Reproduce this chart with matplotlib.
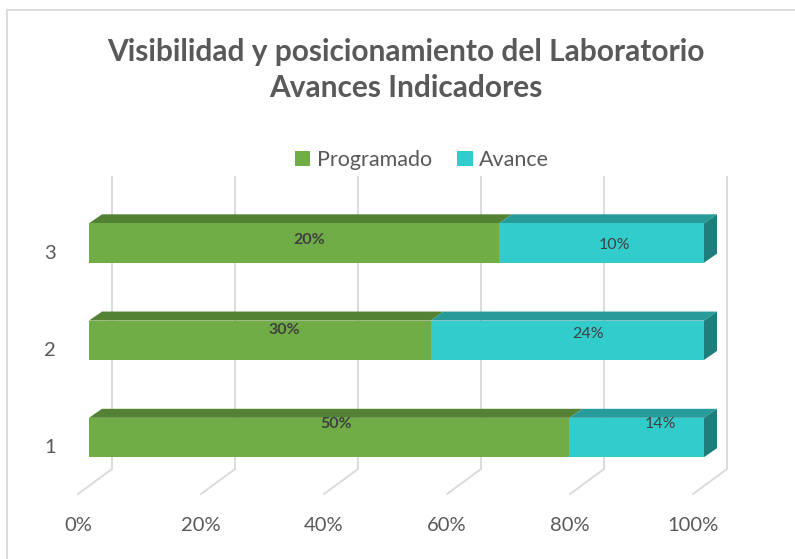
import matplotlib
matplotlib.use("Agg")
import matplotlib.pyplot as plt
from matplotlib.patches import Polygon, Patch, Rectangle

# datos del grafico
categorias = ["1", "2", "3"]
programado = [50, 30, 20]
avance = [14, 24, 10]
ticks = [0, 0.2, 0.4, 0.6, 0.8, 1.0]
tick_labels = ["0%", "20%", "40%", "60%", "80%", "100%"]

titulo = "Visibilidad y posicionamiento del Laboratorio\nAvances Indicadores"

verde = "#70AD47"
verde_top = "#548235"
cian = "#33CCCC"
cian_top = "#279B99"
cian_lado = "#1E7E7C"
gris = "#595959"
linea = "#D9D9D9"

plt.rcParams["font.family"] = ["Lato", "DejaVu Sans"]

fig = plt.figure(figsize=(7.95, 5.59), dpi=100)
ax = fig.add_axes([89 / 795, 65 / 559, 615 / 795, 318 / 559])
ax.set_xlim(0, 1)
ax.set_ylim(0.419, 3.689)
ax.axis("off")

# escala de pixeles a datos
sx = 615.0
sy = 97.25
ddx = 13 / sx
ddy = 9 / sy
alto = 0.405

# borde del grafico
fig.patches.append(Rectangle((7 / 795, -0.1), 1.2, 1 - 10 / 559 + 0.1,
                             transform=fig.transFigure, fill=False,
                             edgecolor=linea, lw=1.3))

# lineas de cuadricula (pared trasera + piso)
y_quiebre = 0.676
for v in ticks:
    xb = v + 23 / sx
    xf = v - 11 / sx
    ax.plot([xb, xb], [3.689, y_quiebre], color=linea, lw=1.3, zorder=0,
            clip_on=False, solid_capstyle="butt")
    ax.plot([xb, xf], [y_quiebre, 0.419], color=linea, lw=1.3, zorder=0,
            clip_on=False)

for v, lab in zip(ticks, tick_labels):
    ax.text(v - 11 / sx, 0.419 - 32 / sy, lab, ha="center", va="center",
            fontsize=14.5, color=gris, clip_on=False)

# ajustes de posicion de etiquetas (px)
etq_dx = [[0, 17], [18, 14], [9, 6]]
etq_dy = [[13, 13], [10, 6], [3, -2]]

for i, cat in enumerate(categorias):
    c = i + 1
    total = programado[i] + avance[i]
    p = programado[i] / total
    yb = c - alto / 2
    yt = c + alto / 2
    segs = [(0, p, verde, verde_top, programado[i], "bold"),
            (p, 1, cian, cian_top, avance[i], "normal")]
    for j, (x0, x1, cf, ct, val, peso) in enumerate(segs):
        ax.barh(c, x1 - x0, left=x0, height=alto, color=cf, zorder=3 + j)
        top = Polygon([(x0, yt), (x1, yt), (x1 + ddx, yt + ddy), (x0 + ddx, yt + ddy)],
                      closed=True, facecolor=ct, edgecolor="none", zorder=2 + j,
                      clip_on=False)
        ax.add_patch(top)
        xm = (x0 + x1) / 2 + ddx / 2 + etq_dx[i][j] / sx
        ym = c + etq_dy[i][j] / sy
        ax.text(xm, ym, "%d%%" % val, ha="center", va="center", fontsize=11.5,
                fontweight=peso, color="#404040", zorder=10)
    lado = Polygon([(1, yb), (1, yt), (1 + ddx, yt + ddy), (1 + ddx, yb + ddy)],
                   closed=True, facecolor=cian_lado, edgecolor="none", zorder=5,
                   clip_on=False)
    ax.add_patch(lado)
    ax.text(-39 / sx, c - 10 / sy, cat, ha="center", va="center", fontsize=14.5,
            color=gris, clip_on=False)

fig.text(406 / 795, 1 - 70 / 559, titulo, ha="center", va="center",
         fontsize=21.5, fontweight="bold", color=gris, linespacing=1.35)

handles = [Patch(facecolor=verde, label="Programado"),
           Patch(facecolor=cian, label="Avance")]
fig.legend(handles=handles, loc="center", bbox_to_anchor=(422 / 795, 1 - 160 / 559),
           ncol=2, frameon=False, fontsize=15.5, labelcolor=gris,
           handlelength=0.7, handleheight=0.7, handletextpad=0.3,
           columnspacing=1.2)

fig.savefig("out.png", dpi=100)
